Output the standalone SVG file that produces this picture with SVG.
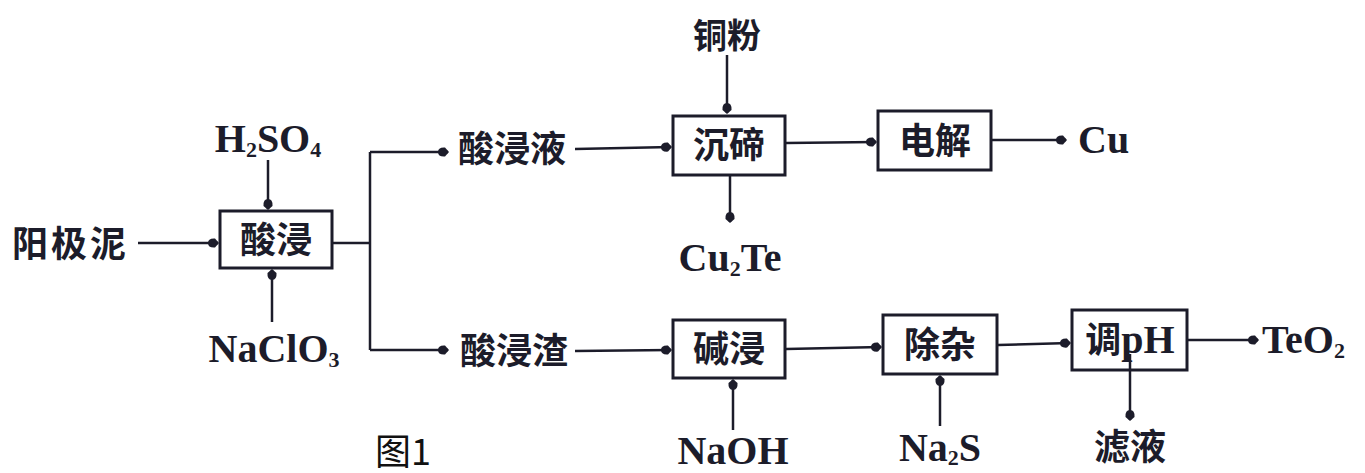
<svg xmlns="http://www.w3.org/2000/svg" width="1365" height="473" viewBox="0 0 1365 473">
<style>
.cn{font-family:"Noto Sans CJK SC","Noto Sans",sans-serif;font-weight:bold;font-size:36px;fill:#1c1c2a}
.lt{font-family:"Liberation Serif","Times New Roman",serif;font-weight:bold;font-size:40px;fill:#1c1c2a}
.sub{font-size:22px}
.box{fill:none;stroke:#1c1c2a;stroke-width:3}
.ln{fill:none;stroke:#1c1c2a;stroke-width:2.5}
.cap{font-family:"Noto Sans CJK SC","Noto Sans",sans-serif;font-weight:normal;font-size:36px;fill:#111}
</style>
<defs>
<marker id="ah" markerUnits="userSpaceOnUse" markerWidth="14" markerHeight="12" viewBox="-11 -6 13 12" refX="0" refY="0" orient="auto">
<path d="M1,0 L-3,-4.5 Q-10,-5 -10,0 Q-10,5 -3,4.5 Z" fill="#1c1c2a"/>
</marker>
</defs>
<rect width="1365" height="473" fill="#fff"/>
<g id="connectors">
<line class="ln" x1="138" y1="243" x2="218" y2="243" marker-end="url(#ah)"/>
<line class="ln" x1="268" y1="160" x2="268" y2="209" marker-end="url(#ah)"/>
<line class="ln" x1="272" y1="322" x2="272" y2="270" marker-end="url(#ah)"/>
<path class="ln" d="M333,243 H370 M370,152 V350"/>
<line class="ln" x1="370" y1="152" x2="448" y2="152" marker-end="url(#ah)"/>
<line class="ln" x1="370" y1="350" x2="448" y2="350" marker-end="url(#ah)"/>
<line class="ln" x1="575" y1="149" x2="671" y2="147" marker-end="url(#ah)"/>
<line class="ln" x1="727" y1="55" x2="727" y2="113" marker-end="url(#ah)"/>
<line class="ln" x1="730" y1="176" x2="730" y2="222" marker-end="url(#ah)"/>
<line class="ln" x1="786" y1="143" x2="876" y2="142" marker-end="url(#ah)"/>
<line class="ln" x1="992" y1="140" x2="1066" y2="140" marker-end="url(#ah)"/>
<line class="ln" x1="575" y1="351" x2="671" y2="350" marker-end="url(#ah)"/>
<line class="ln" x1="733" y1="430" x2="733" y2="380" marker-end="url(#ah)"/>
<line class="ln" x1="786" y1="349" x2="881" y2="347" marker-end="url(#ah)"/>
<line class="ln" x1="940" y1="426" x2="940" y2="376" marker-end="url(#ah)"/>
<line class="ln" x1="998" y1="345" x2="1070" y2="343" marker-end="url(#ah)"/>
<line class="ln" x1="1188" y1="340" x2="1258" y2="340" marker-end="url(#ah)"/>
<line class="ln" x1="1130" y1="354" x2="1130" y2="420" marker-end="url(#ah)"/>
</g>
<g id="anode-mud"><text class="cn" x="12" y="257" style="letter-spacing:3px">阳极泥</text></g>
<g id="h2so4"><text class="lt" x="268" y="152" text-anchor="middle">H<tspan class="sub" dy="5">2</tspan><tspan dy="-5">SO</tspan><tspan class="sub" dy="5">4</tspan></text></g>
<g id="naclo3"><text class="lt" x="274" y="362" text-anchor="middle">NaClO<tspan class="sub" dy="5">3</tspan></text></g>
<g id="acid-leach"><rect class="box" x="220" y="211" width="112" height="57"/><text class="cn" x="276" y="253" text-anchor="middle">酸浸</text></g>
<g id="leach-liquor"><text class="cn" x="458" y="162">酸浸液</text></g>
<g id="leach-residue"><text class="cn" x="460" y="364">酸浸渣</text></g>
<g id="cu-powder"><text class="cn" x="727" y="48" text-anchor="middle" style="font-size:34px">铜粉</text></g>
<g id="te-precip"><rect class="box" x="673" y="116" width="112" height="59"/><text class="cn" x="729" y="158" text-anchor="middle">沉碲</text></g>
<g id="cu2te"><text class="lt" x="730" y="271" text-anchor="middle">Cu<tspan class="sub" dy="5">2</tspan><tspan dy="-5">Te</tspan></text></g>
<g id="electrolysis"><rect class="box" x="878" y="111" width="113" height="59"/><text class="cn" x="935" y="154" text-anchor="middle">电解</text></g>
<g id="cu"><text class="lt" x="1078" y="153">Cu</text></g>
<g id="alkali-leach"><rect class="box" x="673" y="320" width="112" height="58"/><text class="cn" x="729" y="362" text-anchor="middle">碱浸</text></g>
<g id="naoh"><text class="lt" x="733" y="464" text-anchor="middle">NaOH</text></g>
<g id="purify"><rect class="box" x="883" y="315" width="114" height="59"/><text class="cn" x="940" y="358" text-anchor="middle">除杂</text></g>
<g id="na2s"><text class="lt" x="940" y="461" text-anchor="middle">Na<tspan class="sub" dy="4">2</tspan><tspan dy="-4">S</tspan></text></g>
<g id="adjust-ph"><rect class="box" x="1072" y="310" width="115" height="60"/><text x="1130" y="353" text-anchor="middle"><tspan class="cn">调</tspan><tspan class="lt">pH</tspan></text></g>
<g id="filtrate"><text class="cn" x="1130" y="460" text-anchor="middle">滤液</text></g>
<g id="teo2"><text class="lt" x="1262" y="353">TeO<tspan class="sub" dy="5">2</tspan></text></g>
<g id="fig-caption"><text class="cap" x="375" y="465">图1</text></g>
</svg>
